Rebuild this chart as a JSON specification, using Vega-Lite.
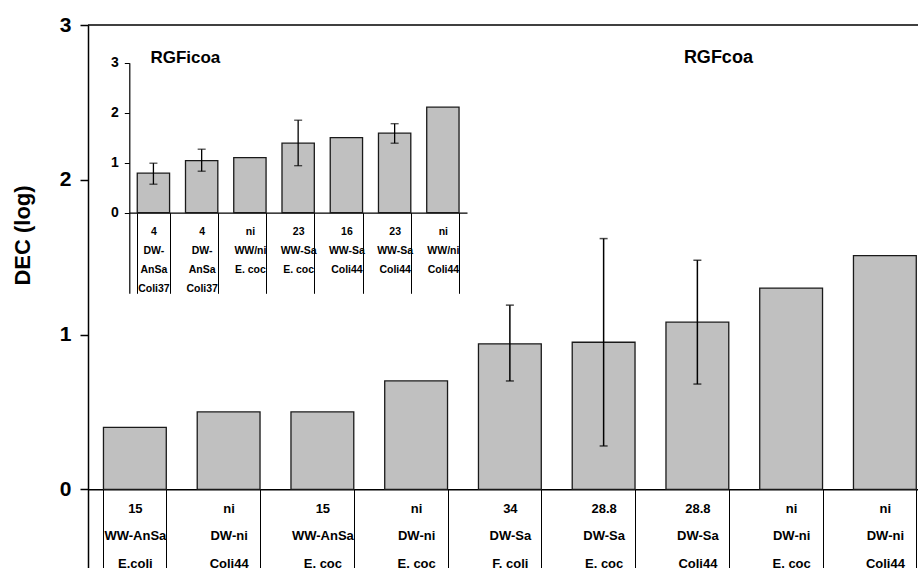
{
  "$schema": "https://vega.github.io/schema/vega-lite/v6.json",
  "width": 830,
  "height": 543,
  "autosize": {"type": "none"},
  "padding": {"left": 88, "top": 25, "right": 0, "bottom": 0},
  "config": {
    "view": {"stroke": null},
    "font": "Liberation Sans",
    "axis": {
      "grid": false,
      "labelFont": "Liberation Sans",
      "labelFontWeight": "bold",
      "labelColor": "#000",
      "titleFont": "Liberation Sans",
      "titleColor": "#000",
      "domainColor": "#000",
      "tickColor": "#000",
      "labelOverlap": false
    }
  },
  "layer": [
    {
      "data": {
        "values": [
          {"key": "15|WW-AnSa|E.coli|1", "dec": 0.40},
          {"key": "ni|DW-ni|Coli44|2", "dec": 0.50},
          {"key": "15|WW-AnSa|E. coc|3", "dec": 0.50},
          {"key": "ni|DW-ni|E. coc|4", "dec": 0.70},
          {"key": "34|DW-Sa|F. coli|5", "dec": 0.94, "lo": 0.70, "hi": 1.19},
          {"key": "28.8|DW-Sa|E. coc|6", "dec": 0.95, "lo": 0.28, "hi": 1.62},
          {"key": "28.8|DW-Sa|Coli44|7", "dec": 1.08, "lo": 0.68, "hi": 1.48},
          {"key": "ni|DW-ni|E. coc|8", "dec": 1.30},
          {"key": "ni|DW-ni|Coli44|9", "dec": 1.51}
        ]
      },
      "layer": [
        {
          "mark": {"type": "bar", "fill": "#c0c0c0", "stroke": "#1a1a1a", "strokeWidth": 1.3},
          "encoding": {
            "x": {
              "field": "key", "type": "nominal", "sort": null,
              "scale": {"range": [0, 843.75], "paddingInner": 0.33, "paddingOuter": 0.165},
              "axis": {
                "title": null, "orient": "bottom", "offset": -78.7,
                "tickBand": "extent", "tickSize": 110, "tickWidth": 1,
                "domainWidth": 1.5, "labelPadding": -97, "labelBaseline": "top",
                "labelAngle": 0, "labelFontSize": 13, "labelLineHeight": 27.5,
                "labelExpr": "isValid(datum.value) ? slice(split(datum.value, '|'), 0, 3) : ''"
              }
            },
            "y": {
              "field": "dec", "type": "quantitative",
              "scale": {"domain": [-0.5085, 3], "nice": false, "zero": false},
              "axis": {
                "title": "DEC (log)", "values": [0, 1, 2, 3], "format": "d",
                "tickSize": 8, "tickWidth": 1.5, "domainWidth": 1.5,
                "labelPadding": 9, "labelFontSize": 21,
                "titleFontSize": 22, "titleFontWeight": "bold", "titleAngle": 270,
                "titleX": -65.5, "titleY": 210, "titleAlign": "center", "titleBaseline": "middle"
              }
            },
            "y2": {"datum": 0}
          }
        },
        {
          "transform": [{"filter": "datum.lo != null"}],
          "mark": {"type": "rule", "color": "#000", "strokeWidth": 1.5},
          "encoding": {
            "x": {"field": "key", "type": "nominal", "sort": null},
            "y": {"field": "lo", "type": "quantitative"},
            "y2": {"field": "hi"}
          }
        },
        {
          "transform": [{"filter": "datum.lo != null"}],
          "mark": {"type": "tick", "color": "#000", "size": 8, "thickness": 1.5},
          "encoding": {
            "x": {"field": "key", "type": "nominal", "sort": null},
            "y": {"field": "lo", "type": "quantitative"}
          }
        },
        {
          "transform": [{"filter": "datum.hi != null"}],
          "mark": {"type": "tick", "color": "#000", "size": 8, "thickness": 1.5},
          "encoding": {
            "x": {"field": "key", "type": "nominal", "sort": null},
            "y": {"field": "hi", "type": "quantitative"}
          }
        },
        {
          "data": {"values": [{"t": "top"}]},
          "mark": {"type": "rule", "color": "#000", "strokeWidth": 1.5},
          "encoding": {"y": {"datum": 3}}
        },
        {
          "data": {"values": [{"t": "RGFcoa"}]},
          "mark": {"type": "text", "font": "Liberation Sans", "fontWeight": "bold", "fontSize": 18, "align": "center", "baseline": "middle", "dx": 21, "color": "#000"},
          "encoding": {
            "x": {"datum": "28.8|DW-Sa|Coli44|7"},
            "y": {"datum": 2.79},
            "text": {"field": "t"}
          }
        }
      ]
    },
    {
      "data": {
        "values": [
          {"key": "4|DW-|AnSa|Coli37|1", "dec": 0.79, "lo": 0.57, "hi": 0.99},
          {"key": "4|DW-|AnSa|Coli37|2", "dec": 1.04, "lo": 0.83, "hi": 1.27},
          {"key": "ni|WW/ni|\u00a0|E. coc|3", "dec": 1.10},
          {"key": "23|WW-Sa|\u00a0|E. coc|4", "dec": 1.39, "lo": 0.94, "hi": 1.85},
          {"key": "16|WW-Sa|\u00a0|Coli44|5", "dec": 1.50},
          {"key": "23|WW-Sa|\u00a0|Coli44|6", "dec": 1.59, "lo": 1.39, "hi": 1.78},
          {"key": "ni|WW/ni|\u00a0|Coli44|7", "dec": 2.11}
        ]
      },
      "layer": [
        {
          "mark": {"type": "bar", "fill": "#c0c0c0", "stroke": "#1a1a1a", "strokeWidth": 1.3},
          "encoding": {
            "x": {
              "field": "key", "type": "nominal", "sort": null,
              "scale": {"range": [41.3, 379], "paddingInner": 0.33, "paddingOuter": 0.165},
              "axis": {
                "title": null, "orient": "bottom", "offset": -355.3,
                "tickBand": "extent", "tickSize": 80.6, "tickWidth": 1,
                "domainWidth": 1.2, "labelPadding": -66.8, "labelBaseline": "top",
                "labelAngle": 0, "labelFontSize": 10.5, "labelLineHeight": 19,
                "labelExpr": "isValid(datum.value) ? slice(split(datum.value, '|'), 0, 4) : ''"
              }
            },
            "y": {
              "field": "dec", "type": "quantitative",
              "scale": {"domain": [-1.612, 3], "range": [268.3, 37.7], "nice": false, "zero": false},
              "axis": {
                "title": null, "orient": "left", "offset": -41.3, "values": [0, 1, 2, 3], "format": "d",
                "tickSize": 5, "tickWidth": 1, "domainWidth": 1.2,
                "labelPadding": 6, "labelFontSize": 14
              }
            },
            "y2": {"datum": 0}
          }
        },
        {
          "transform": [{"filter": "datum.lo != null"}],
          "mark": {"type": "rule", "color": "#000", "strokeWidth": 1.3},
          "encoding": {
            "x": {"field": "key", "type": "nominal", "sort": null},
            "y": {"field": "lo", "type": "quantitative"},
            "y2": {"field": "hi"}
          }
        },
        {
          "transform": [{"filter": "datum.lo != null"}],
          "mark": {"type": "tick", "color": "#000", "size": 8, "thickness": 1.3},
          "encoding": {
            "x": {"field": "key", "type": "nominal", "sort": null},
            "y": {"field": "lo", "type": "quantitative"}
          }
        },
        {
          "transform": [{"filter": "datum.hi != null"}],
          "mark": {"type": "tick", "color": "#000", "size": 8, "thickness": 1.3},
          "encoding": {
            "x": {"field": "key", "type": "nominal", "sort": null},
            "y": {"field": "hi", "type": "quantitative"}
          }
        },
        {
          "data": {"values": [{"t": "RGFicoa"}]},
          "mark": {"type": "text", "font": "Liberation Sans", "fontWeight": "bold", "fontSize": 17, "align": "left", "baseline": "middle", "dx": -3, "color": "#000"},
          "encoding": {
            "x": {"datum": "4|DW-|AnSa|Coli37|1"},
            "y": {"datum": 3.1},
            "text": {"field": "t"}
          }
        }
      ]
    }
  ],
  "resolve": {"scale": {"x": "independent", "y": "independent"}}
}
